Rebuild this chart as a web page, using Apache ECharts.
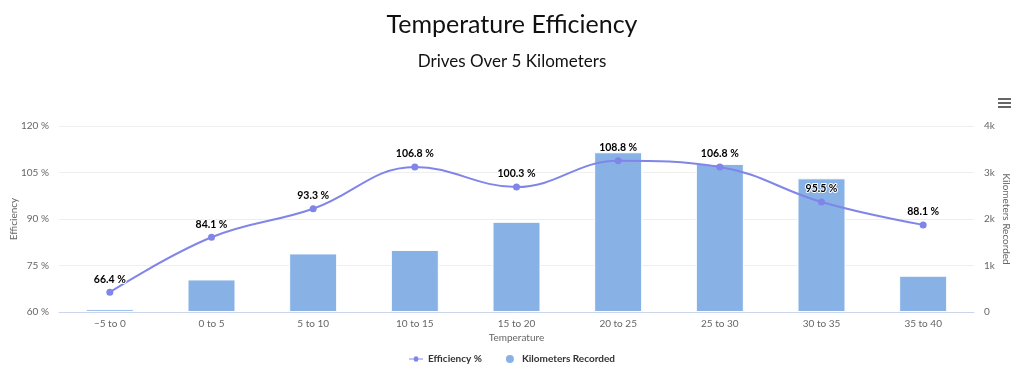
<!DOCTYPE html>
<html>
<head>
<meta charset="utf-8">
<script src="https://cdn.jsdelivr.net/npm/echarts@6/dist/echarts.min.js"></script>
<style>html,body{margin:0;padding:0;background:#fff}#c{width:1024px;height:383px}</style>
</head>
<body>
<div id="c"></div>
<script>
var categories = ['\u22125 to 0', '0 to 5', '5 to 10', '10 to 15', '15 to 20', '20 to 25', '25 to 30', '30 to 35', '35 to 40'];
var efficiency = [66.4, 84.1, 93.3, 106.8, 100.3, 108.8, 106.8, 95.5, 88.1];
var kilometers = [60, 700, 1260, 1335, 1940, 3435, 3185, 2875, 780];
var leftTicks = [60, 75, 90, 105, 120];
var rightTicks = [0, 1000, 2000, 3000, 4000];

var chart = echarts.init(document.getElementById('c'), null, {renderer: 'canvas'});
var axisFont = {color: '#666666', fontSize: 10, fontFamily: 'Lato, sans-serif'};
chart.setOption({
  animation: false,
  title: [
    {text: 'Temperature Efficiency', left: 'center', top: 7, textStyle: {fontFamily: 'Lato, sans-serif', fontSize: 25, fontWeight: 'normal', color: '#111'}},
    {text: 'Drives Over 5 Kilometers', left: 'center', top: 48, textStyle: {fontFamily: 'Lato, sans-serif', fontSize: 17, fontWeight: 'normal', color: '#111'}}
  ],
  legend: {
    bottom: 13, left: 'center', itemGap: 22, itemWidth: 14, itemHeight: 10,
    textStyle: {fontFamily: 'Lato, sans-serif', fontSize: 10, fontWeight: 'bold', color: '#333'},
    data: [
      {name: 'Efficiency %', icon: 'path://M0,4 L6,4 A3,3 0 1,1 12,4 L18,4 L18,5 L12,5 A3,3 0 1,1 6,5 L0,5 Z', itemStyle: {color: '#8085e9'}},
      {name: 'Kilometers Recorded', icon: 'circle'}
    ]
  },
  grid: {left: 59, right: 50, top: 126, bottom: 71, containLabel: false, outerBoundsMode: 'none'},
  xAxis: {
    type: 'category', data: categories,
    name: 'Temperature', nameLocation: 'middle', nameGap: 21, nameMoveOverlap: false,
    nameTextStyle: {color: '#666', fontSize: 10, fontFamily: 'Lato, sans-serif'},
    axisLine: {lineStyle: {color: '#ccd6eb'}},
    axisTick: {show: false},
    axisLabel: Object.assign({margin: 7}, axisFont)
  },
  yAxis: [
    {
      type: 'value', min: 60, max: 120, interval: 15,
      name: 'Efficiency', nameLocation: 'middle', nameGap: 40, nameRotate: 90, nameMoveOverlap: false,
      nameTextStyle: {color: '#666', fontSize: 10, fontFamily: 'Lato, sans-serif'},
      axisLabel: Object.assign({formatter: '{value} %', margin: 10}, axisFont),
      splitLine: {lineStyle: {color: '#eeeeee'}},
      axisLine: {show: false}, axisTick: {show: false}
    },
    {
      type: 'value', min: 0, max: 4000, interval: 1000,
      name: 'Kilometers Recorded', nameLocation: 'middle', nameGap: 27, nameRotate: -90, nameMoveOverlap: false,
      nameTextStyle: {color: '#666', fontSize: 10, fontFamily: 'Lato, sans-serif'},
      axisLabel: Object.assign({margin: 10, formatter: function (v) { return v === 0 ? '0' : (v / 1000) + 'k'; }}, axisFont),
      splitLine: {show: false},
      axisLine: {show: false}, axisTick: {show: false}
    }
  ],
  series: [
    {
      name: 'Kilometers Recorded', type: 'bar', yAxisIndex: 1, data: kilometers,
      barWidth: 48, z: 1,
      itemStyle: {color: '#88b2e6', borderColor: '#ffffff', borderWidth: 1}
    },
    {
      name: 'Efficiency %', type: 'line', yAxisIndex: 0, data: efficiency,
      smooth: 0.4, symbol: 'circle', symbolSize: 7, z: 3,
      lineStyle: {color: '#8085e9', width: 2},
      itemStyle: {color: '#8085e9'},
      label: {
        show: true, position: 'top', distance: 4,
        formatter: '{c} %',
        fontFamily: 'Lato, sans-serif', fontSize: 10.5, fontWeight: 'bold', color: '#000',
        textBorderColor: '#fff', textBorderWidth: 2
      }
    }
  ],
  graphic: [
    {type: 'rect', left: 998, top: 98, shape: {width: 13, height: 2}, style: {fill: '#666'}},
    {type: 'rect', left: 998, top: 102, shape: {width: 13, height: 2}, style: {fill: '#666'}},
    {type: 'rect', left: 998, top: 106, shape: {width: 13, height: 2}, style: {fill: '#666'}}
  ]
});
</script>
</body>
</html>
